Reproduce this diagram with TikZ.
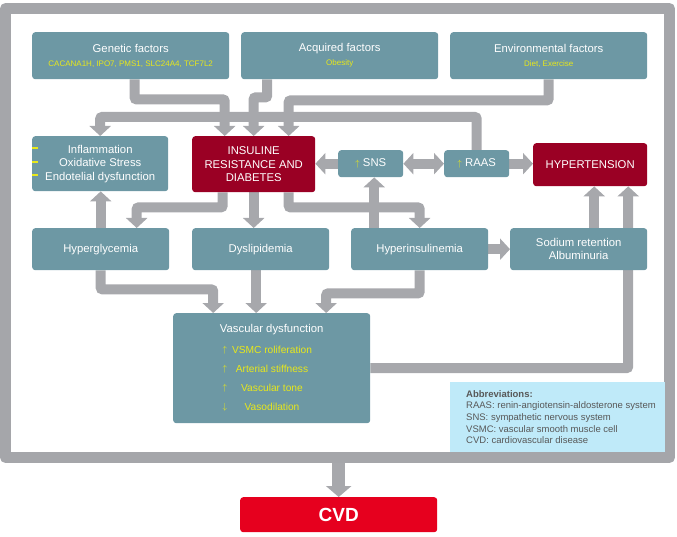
\documentclass[tikz,border=0pt]{standalone}
\usepackage{fontspec}
\setmainfont{Liberation Sans}
\usetikzlibrary{arrows.meta,backgrounds}
\definecolor{boxteal}{RGB}{109,152,164}
\definecolor{darkred}{RGB}{154,0,36}
\definecolor{cvdred}{RGB}{230,0,30}
\definecolor{arrgray}{RGB}{167,168,172}
\definecolor{framegray}{RGB}{165,166,170}
\definecolor{abbblue}{RGB}{191,234,249}
\definecolor{abbtext}{RGB}{88,88,88}
\definecolor{ylw}{RGB}{232,232,26}
\begin{document}
\begin{tikzpicture}[x=1pt, y=-1pt, font=\fontsize{11.3}{13.5}\selectfont, line join=round, >={Triangle[width=21pt,length=10pt]},
    box/.style={fill=boxteal, rounded corners=3pt, text=white, align=center, inner sep=0pt, anchor=north west},
    redbox/.style={box, fill=darkred},
    arr/.style={draw=arrgray, line width=10pt, rounded corners=2pt},
    sub/.style={text=ylw, font=\fontsize{8}{9}\selectfont}]
    \useasboundingbox (0,0) rectangle (677,537);
    \node[draw=framegray, line width=11pt, minimum width=664pt, minimum height=449pt, inner sep=0pt] (frame) at (337.5,233) {};
    % factors
    \node[box, minimum width=197pt, minimum height=47pt] (gen) at (32,32) {Genetic factors\\[0.5pt]{\color{ylw}\fontsize{8}{9}\selectfont CACANA1H, IPO7, PMS1, SLC24A4, TCF7L2}};
    \node[box, minimum width=197pt, minimum height=47pt] (acq) at (241,32) {Acquired factors\\[0.5pt]{\color{ylw}\fontsize{8}{9}\selectfont Obesity}};
    \node[box, minimum width=197pt, minimum height=47pt] (env) at (450,32) {Environmental factors\\[0.5pt]{\color{ylw}\fontsize{8}{9}\selectfont Diet, Exercise}};
    % middle row
    \node[box, minimum width=136pt, minimum height=55pt] (infl) at (32,136) {Inflammation\\Oxidative Stress\\Endotelial dysfunction};
    \node[redbox, minimum width=123pt, minimum height=56pt] (ins) at (192,136) {INSULINE\\RESISTANCE AND\\DIABETES};
    \node[box, minimum width=65pt, minimum height=27pt] (sns) at (338,150) {{\color{ylw}\fontsize{9}{9}\selectfont$\uparrow$}\ SNS};
    \node[box, minimum width=65pt, minimum height=27pt] (raas) at (444,150) {{\color{ylw}\fontsize{9}{9}\selectfont$\uparrow$}\ RAAS};
    \node[redbox, minimum width=114pt, minimum height=43pt] (hyp) at (533,143) {HYPERTENSION};
    % lower row
    \node[box, minimum width=137pt, minimum height=42pt] (hgly) at (32,228) {Hyperglycemia};
    \node[box, minimum width=137pt, minimum height=42pt] (dys) at (192,228) {Dyslipidemia};
    \node[box, minimum width=137pt, minimum height=42pt] (hins) at (351,228) {Hyperinsulinemia};
    \node[box, minimum width=137pt, minimum height=42pt] (sod) at (510,228) {Sodium retention\\Albuminuria};
    % vascular dysfunction
    \node[box, minimum width=197pt, minimum height=110pt] (vas) at (173,313) {};
    \node[text=white] (vastitle) at ([yshift=-17pt]vas.north) {Vascular dysfunction};
    \foreach \y/\a/\t [count=\i] in {350/\uparrow/VSMC roliferation, 369/\uparrow/Arterial stiffness, 388/\uparrow/Vascular tone, 407/\downarrow/Vasodilation}{
        \node[text=ylw, font=\fontsize{9}{9}\selectfont] (varr\i) at (225,\y) {$\a$};
        \node[text=ylw, font=\fontsize{10.2}{12}\selectfont] (vitem\i) at (272,\y) {\t};
    }
    \foreach \y in {148,162,175}
        \draw[ylw, line width=1.3pt] (32,\y) -- (37.5,\y);
    % abbreviations
    \node[fill=abbblue, inner sep=0pt, anchor=north west, minimum width=215pt, minimum height=70pt] (abb) at (450,382) {};
    \node[anchor=north west, align=left, text=abbtext, font=\fontsize{9.5}{11.7}\selectfont, inner sep=0pt] (abbtxt) at (466,390) {\textbf{Abbreviations:}\\RAAS: renin-angiotensin-aldosterone system\\SNS: sympathetic nervous system\\VSMC: vascular smooth muscle cell\\CVD: cardiovascular disease};
    \node[fill=cvdred, rounded corners=3pt, text=white, font=\bfseries\fontsize{19}{22}\selectfont, minimum width=197pt, minimum height=35pt, anchor=north west, inner sep=0pt] (cvd) at (240,497) {CVD};
    % arrows
    \begin{scope}[on background layer]
        \draw[arr,->] (raas.north) -- ++(0,-33) -| (infl.north);
        \draw[arr,->] ([xshift=4pt]gen.south) -- ++(0,20) -| ([xshift=-29pt]ins.north);
        \draw[arr,->] ([xshift=-72.5pt]acq.south) -- ++(0,18) -| (ins.north);
        \draw[arr,->] (env.south) -- ++(0,21) -| ([xshift=35pt]ins.north);
        \draw[arr,->] (sns.west) -- (sns.west -| ins.east);
        \draw[arr,<->] (sns.east) -- (raas.west);
        \draw[arr,->] (raas.east) -- (raas.east -| hyp.west);
        \draw[arr,->] ([xshift=-31pt]ins.south) -- ++(0,15) -| ([xshift=36pt]hgly.north);
        \draw[arr,->] (ins.south) -- (ins.south |- dys.north);
        \draw[arr,->] ([xshift=35pt]ins.south) -- ++(0,15) -| (hins.north);
        \draw[arr,->] ([xshift=-45.5pt]hins.north) -- ([xshift=3.5pt]sns.south);
        \draw[arr,->] (hgly.north) -- (hgly.north |- infl.south);
        \draw[arr,->] (hgly.south) -- ++(0,19) -| ([xshift=-58.5pt]vas.north);
        \draw[arr,->] ([xshift=-4.5pt]dys.south) -- ([xshift=-15.5pt]vas.north);
        \draw[arr,->] (hins.south) -- ++(0,23) -| ([xshift=54.5pt]vas.north);
        \draw[arr,->] (hins.east) -- (sod.west);
        \draw[arr,->] ([xshift=15.5pt]sod.north) -- ([xshift=4pt]hyp.south);
        \draw[arr,->] (vas.east) -| ([xshift=38pt]hyp.south);
        \draw[arr, line width=13pt, -{Triangle[width=25pt,length=11pt]}] (frame.south -| cvd.north) -- (cvd.north);
    \end{scope}
\end{tikzpicture}
\end{document}
